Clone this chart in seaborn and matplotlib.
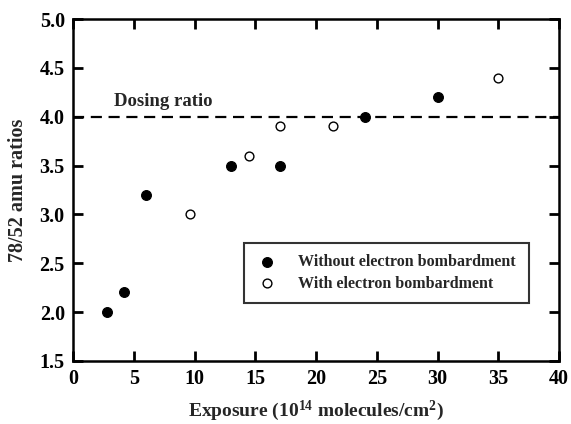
import matplotlib
matplotlib.use("Agg")
import matplotlib.pyplot as plt
import seaborn as sns
import pandas as pd

# --- Data ---
exp_without = [2.8, 4.2, 6.0, 13.0, 17.0, 24.0, 30.0]
ratio_without = [2.0, 2.2, 3.2, 3.5, 3.5, 4.0, 4.2]
exp_with = [9.6, 14.5, 17.0, 21.4, 35.0]
ratio_with = [3.0, 3.6, 3.9, 3.9, 4.4]
dosing_ratio = 4.0

x_ticks = [0, 5, 10, 15, 20, 25, 30, 35, 40]
y_ticks = [1.5, 2.0, 2.5, 3.0, 3.5, 4.0, 4.5, 5.0]

df_without = pd.DataFrame({'Exposure': exp_without, 'Ratio': ratio_without})
df_with = pd.DataFrame({'Exposure': exp_with, 'Ratio': ratio_with})

# --- Style ---
sns.set_theme(style="ticks")
plt.rcParams['font.family'] = ['Liberation Serif', 'DejaVu Serif']
plt.rcParams['font.weight'] = 'bold'
plt.rcParams['mathtext.fontset'] = 'custom'
plt.rcParams['mathtext.rm'] = 'Liberation Serif:bold'
plt.rcParams['mathtext.default'] = 'rm'
plt.rcParams['xtick.direction'] = 'in'
plt.rcParams['ytick.direction'] = 'in'
plt.rcParams['xtick.color'] = 'black'
plt.rcParams['ytick.color'] = 'black'
plt.rcParams['axes.axisbelow'] = False

fig = plt.figure(figsize=(5.71, 4.24), dpi=100)
ax = fig.add_axes([0.128, 0.149, 0.851, 0.806])

sns.scatterplot(data=df_without, x='Exposure', y='Ratio', ax=ax,
                color='black', edgecolor='black', s=50, linewidth=0.8,
                label='Without electron bombardment', zorder=3)
sns.scatterplot(data=df_with, x='Exposure', y='Ratio', ax=ax,
                facecolor='white', edgecolor='black', s=40, linewidth=1.0,
                label='With electron bombardment', zorder=3)

ax.axhline(dosing_ratio, color='black', lw=1.6, ls=(0, (5, 3)), zorder=2)
ax.text(3.4, dosing_ratio + 0.07, 'Dosing ratio', fontsize=13.5,
        fontweight='bold', ha='left', va='bottom')

# --- Axes ---
ax.set_xlim(0, 40)
ax.set_ylim(1.5, 5.0)
ax.set_xticks(x_ticks)
ax.set_yticks(y_ticks)
ax.set_yticklabels([f'{v:.1f}' for v in y_ticks])
ax.set_axisbelow(False)
ax.tick_params(which='major', direction='in', length=7, width=2,
               labelsize=14.5, top=True, right=True, pad=6, color='black')
for lbl in ax.get_xticklabels() + ax.get_yticklabels():
    lbl.set_fontweight('bold')
for sp in ax.spines.values():
    sp.set_linewidth(1.8)
    sp.set_color('black')
    sp.set_visible(True)

ax.set_xlabel('Exposure (10$^{14}$ molecules/cm$^{2}$)', fontsize=14,
              fontweight='bold', labelpad=7)
ax.set_ylabel('78/52 amu ratios', fontsize=14.5, fontweight='bold', labelpad=8)

leg = ax.legend(loc='lower left', bbox_to_anchor=(0.352, 0.17, 0.586, 0.172),
                mode='expand', fontsize=11.5, frameon=True, fancybox=False,
                borderaxespad=0, handletextpad=1.2, labelspacing=0.35,
                borderpad=0.7, handlelength=1.5)
leg.get_frame().set_edgecolor('black')
leg.get_frame().set_linewidth(1.5)
for t in leg.get_texts():
    t.set_fontweight('bold')

fig.savefig('out.png', dpi=100)
